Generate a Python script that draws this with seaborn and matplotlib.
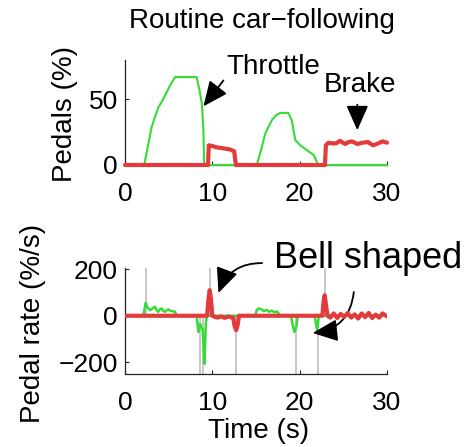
import numpy as np
import pandas as pd
import matplotlib
matplotlib.use("Agg")
import matplotlib.pyplot as plt
import seaborn as sns

# ---------------- data ----------------
throttle_t = [0, 2.2, 2.68, 3.06, 3.4, 3.82, 4.2, 4.59, 5.16, 5.73, 6.5, 7.5, 8.2,
              8.5, 8.8, 8.98, 9.06, 15.1, 15.6, 16.06, 16.8, 17.3, 17.77, 18.7,
              19.1, 19.5, 20.07, 20.8, 21.6, 22.0, 22.2, 30]
throttle_v = [0, 0, 16.4, 29, 36, 44, 48, 53, 60.6, 67, 67, 67, 67,
              58, 46.7, 26.5, 0, 0, 12, 24, 34, 38, 39.7, 39.7,
              34, 19, 15, 11.4, 7.6, 1.8, 0, 0]

brake_t = [0, 9.5, 9.6, 10.0, 10.5, 11.0, 11.5, 12.0, 12.5, 12.6, 12.7, 22.9,
           23.0, 23.3, 23.7, 24.2, 24.6, 25.2, 25.6, 26.0, 26.6, 27.2, 27.8,
           28.4, 29.0, 29.5, 30]
brake_v = [0, 0, 15, 14.5, 13.4, 13, 12.4, 11.9, 10.5, 5, 0, 0,
           15, 17, 16.5, 16.5, 18.4, 16, 17.5, 18, 16, 17, 17.5,
           15, 16.5, 18, 17]

throttle_rate_t = [0, 2.1, 2.25, 2.37, 2.5, 2.68, 2.9, 3.1, 3.3, 3.44, 3.6, 3.82,
                   4.0, 4.2, 4.4, 4.6, 4.8, 4.97, 5.2, 5.4, 5.73, 5.9, 8.2, 8.4,
                   8.6, 8.87, 9.0, 9.1, 9.25, 9.37, 14.9, 15.1, 15.3, 15.6, 15.9,
                   16.2, 16.5, 16.8, 17.1, 17.4, 17.8, 19.0, 19.2, 19.4, 19.6,
                   19.8, 21.7, 21.9, 22.0, 22.2, 30]
throttle_rate_v = [0, 0, 30, 55, 40, 31, 24, 30, 36, 38, 25, 17,
                   28, 31, 20, 17, 24, 27, 21, 20, 17, 0, 0, -70,
                   -35, -57, -120, -206, -35, 0, 0, 25, 31, 28, 20,
                   25, 17, 22, 15, 18, 0, 0, -40, -70, -50,
                   0, 0, -40, -62, 0, 0]

brake_rate_t = [0, 9.4, 9.55, 9.7, 9.85, 10.0, 10.3, 10.6, 11.0, 11.4, 11.8,
                12.2, 12.4, 12.55, 12.73, 12.9, 13.05, 22.6, 22.7, 22.86, 23.0,
                23.2, 23.5, 23.9, 24.3, 24.7, 25.1, 25.5, 25.9, 26.3, 26.7,
                27.1, 27.5, 27.9, 28.3, 28.7, 29.1, 29.5, 30]
brake_rate_v = [0, 0, 70, 110, 70, 0, -5, -8, -3, -9, -4,
                -6, -10, -45, -62, -40, 0, 0, 50, 88, 50,
                0, -8, 10, -10, 8, -5, 12, -8, 6, -12,
                10, -6, 12, -10, 5, -8, 10, -3]

onset_up = [2.37, 9.75, 22.94]                 # grey markers above zero
onset_down = [8.6, 8.98, 12.73, 19.57, 22.05]  # grey markers below zero

x_ticks = [0, 10, 20, 30]
top_yticks = [0, 50]
bot_yticks = [-200, 0, 200]

GREEN = "#35dc35"
RED = "#e33b3b"
GREY = "#c8c8c8"

# ---------------- style ----------------
sns.set_style("ticks")
plt.rcParams["font.family"] = ["Liberation Sans", "DejaVu Sans"]
plt.rcParams["axes.unicode_minus"] = True
plt.rcParams["text.color"] = "black"
plt.rcParams["axes.labelcolor"] = "black"
plt.rcParams["xtick.color"] = "black"
plt.rcParams["ytick.color"] = "black"

fig = plt.figure(figsize=(4.67, 4.47), dpi=100)
W, H = 467, 447
ax1 = fig.add_axes([125 / W, 1 - 165 / H, 262 / W, 105 / H])
ax2 = fig.add_axes([125 / W, 1 - 374 / H, 262 / W, 106 / H])

df_thr = pd.DataFrame({"t": throttle_t, "v": throttle_v})
df_brk = pd.DataFrame({"t": brake_t, "v": brake_v})
df_thr_r = pd.DataFrame({"t": throttle_rate_t, "v": throttle_rate_v})
df_brk_r = pd.DataFrame({"t": brake_rate_t, "v": brake_rate_v})

ARROW = dict(arrowstyle="-|>,head_length=0.45,head_width=0.2",
             color="black", lw=1.3, mutation_scale=34, shrinkA=0, shrinkB=0)

# ---- top panel ----
sns.lineplot(data=df_thr, x="t", y="v", ax=ax1, color=GREEN, lw=1.5,
             estimator=None, sort=False, zorder=3, clip_on=False)
sns.lineplot(data=df_brk, x="t", y="v", ax=ax1, color=RED, lw=3.0,
             estimator=None, sort=False, zorder=4, clip_on=False)
ax1.set_xlim(0, 30)
ax1.set_ylim(0, 80)
ax1.set_xticks(x_ticks)
ax1.set_yticks(top_yticks)
ax1.set_xlabel("")
ax1.set_ylabel("Pedals (%)", fontsize=20, va="baseline", color="black")
ax1.yaxis.set_label_coords((72 - 125) / 262, 0.486)
ax1.set_title("Routine car\u2212following", fontsize=20, x=0.521, y=1.229,
              va="baseline", color="black")

ax1.annotate("", xy=(8.98, 44.7), xytext=(11.27, 64.4), arrowprops=ARROW)
ax1.text(17.0, 69.7, "Throttle", fontsize=20, ha="center", va="baseline",
         color="black")
ax1.annotate("", xy=(26.6, 26.5), xytext=(26.6, 46), arrowprops=ARROW)
ax1.text(26.95, 55.3, "Brake", fontsize=20, ha="center", va="baseline",
         color="black")

# ---- bottom panel ----
ylo, yhi = -250, 205
ax2.vlines(onset_up, 0, yhi, color=GREY, lw=1.4, zorder=1)
ax2.vlines(onset_down, ylo, 0, color=GREY, lw=1.4, zorder=1)
sns.lineplot(data=df_thr_r, x="t", y="v", ax=ax2, color=GREEN, lw=1.8,
             estimator=None, sort=False, zorder=3)
sns.lineplot(data=df_brk_r, x="t", y="v", ax=ax2, color=RED, lw=3.0,
             estimator=None, sort=False, zorder=4)
ax2.set_xlim(0, 30)
ax2.set_ylim(ylo, yhi)
ax2.set_xticks(x_ticks)
ax2.set_yticks(bot_yticks)
ax2.set_xlabel("Time (s)", fontsize=20, va="baseline", color="black")
ax2.xaxis.set_label_coords(0.511, (374 - 438) / 106)
ax2.set_ylabel("Pedal rate (%/s)", fontsize=20, va="baseline", color="black")
ax2.yaxis.set_label_coords((40 - 125) / 262, 0.476)

ax2.text(27.8, 204, "Bell shaped", fontsize=26, ha="center", va="baseline",
         color="black")
ax2.annotate("", xy=(10.7, 98), xytext=(15.7, 226), annotation_clip=False,
             arrowprops=dict(ARROW, connectionstyle="arc3,rad=0.35"))
ax2.annotate("", xy=(21.5, -74), xytext=(26.2, 102), annotation_clip=False,
             arrowprops=dict(ARROW, connectionstyle="arc3,rad=-0.4"))

for ax in (ax1, ax2):
    sns.despine(ax=ax)
    for s in ("left", "bottom"):
        ax.spines[s].set_linewidth(0.9)
        ax.spines[s].set_color("#222222")
    ax.tick_params(axis="both", direction="in", length=3, width=0.8,
                   labelsize=19, colors="#222222", labelcolor="black")
    ax.tick_params(axis="x", pad=12)
    ax.tick_params(axis="y", pad=5)

fig.savefig("out.png", dpi=100)
